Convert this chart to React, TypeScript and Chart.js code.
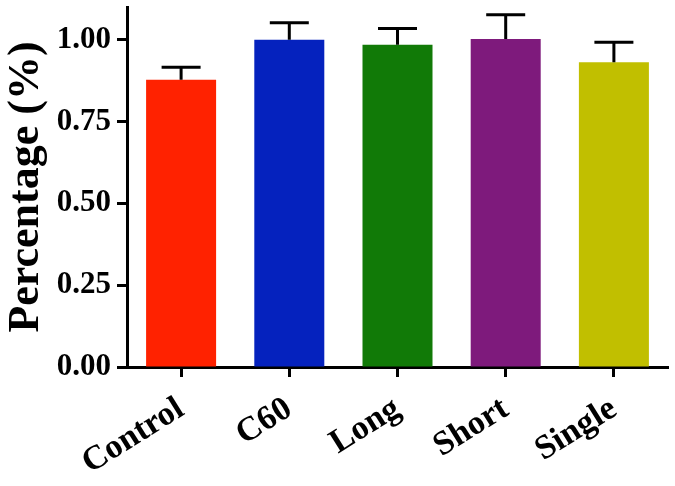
import React, { useEffect, useRef } from 'react';
import { Chart, registerables } from 'chart.js';

Chart.register(...registerables);

const categories = ['Control', 'C60', 'Long', 'Short', 'Single'];
const means = [0.878, 1.0, 0.985, 1.002, 0.931];
const errors = [0.038, 0.052, 0.049, 0.074, 0.061];
const barColors = ['#FF2200', '#0522BE', '#117A07', '#7E1A7C', '#C1BF00'];
const yTicks = [0, 0.25, 0.5, 0.75, 1.0];
const yMin = 0;
const yMax = 1.1;
const yTitle = 'Percentage (%)';

const FONT = "'Liberation Serif', 'Times New Roman', serif";

const errorBarPlugin = {
  id: 'errorBars',
  afterDatasetsDraw(chart: any) {
    const ctx = chart.ctx;
    const meta = chart.getDatasetMeta(0);
    const yScale = chart.scales.y;
    ctx.save();
    ctx.strokeStyle = '#000';
    ctx.lineWidth = 3;
    meta.data.forEach((bar: any, i: number) => {
      const x = bar.x;
      const base = yScale.getPixelForValue(means[i]);
      const top = yScale.getPixelForValue(means[i] + errors[i]);
      ctx.beginPath();
      ctx.moveTo(x, base);
      ctx.lineTo(x, top);
      ctx.moveTo(x - 19.5, top);
      ctx.lineTo(x + 19.5, top);
      ctx.stroke();
    });
    ctx.restore();
  },
};

export default function App() {
  const ref = useRef<HTMLCanvasElement>(null);
  useEffect(() => {
    document.body.style.margin = '0';
    const chart = new Chart(ref.current as HTMLCanvasElement, {
      type: 'bar',
      data: {
        labels: categories,
        datasets: [
          {
            data: means,
            backgroundColor: barColors,
            borderWidth: 0,
            barPercentage: 0.647,
            categoryPercentage: 1,
          },
        ],
      },
      options: {
        animation: false,
        responsive: false,
        maintainAspectRatio: false,
        layout: { padding: { top: 7, right: 7, left: 0, bottom: 0 } },
        plugins: { legend: { display: false }, tooltip: { enabled: false } },
        scales: {
          x: {
            offset: true,
            grid: {
              display: true,
              drawOnChartArea: false,
              drawTicks: true,
              tickLength: 10,
              tickWidth: 3,
              tickColor: '#000',
              offset: false,
            },
            border: { display: true, color: '#000', width: 3 },
            ticks: {
              color: '#000',
              font: { family: FONT, size: 34, weight: 'bold' },
              minRotation: 32,
              maxRotation: 32,
              padding: 12,
              autoSkip: false,
            },
            afterFit(scale: any) {
              scale.height = 119;
              scale.paddingLeft = 0;
              scale.paddingRight = 0;
            },
          },
          y: {
            min: yMin,
            max: yMax,
            afterBuildTicks(scale: any) {
              scale.ticks = yTicks.map((v) => ({ value: v }));
            },
            grid: {
              display: true,
              drawOnChartArea: false,
              drawTicks: true,
              tickLength: 10,
              tickWidth: 3,
              tickColor: '#000',
            },
            border: { display: true, color: '#000', width: 3 },
            ticks: {
              color: '#000',
              font: { family: FONT, size: 31, weight: 'bold' },
              padding: 6,
              callback: (v: any) => Number(v).toFixed(2),
            },
            title: {
              display: true,
              text: yTitle,
              color: '#000',
              font: { family: FONT, size: 44, weight: 'bold', lineHeight: 1.2 },
              padding: { top: 0, bottom: 0 },
            },
            afterFit(scale: any) {
              scale.width = 127;
              scale.paddingTop = 0;
              scale.paddingBottom = 0;
            },
          },
        },
      },
      plugins: [errorBarPlugin],
    });
    return () => chart.destroy();
  }, []);
  return (
    <div style={{ position: 'absolute', left: 0, top: 0, width: 675, height: 486 }}>
      <canvas ref={ref} width={675} height={486} style={{ width: 675, height: 486 }} />
    </div>
  );
}
